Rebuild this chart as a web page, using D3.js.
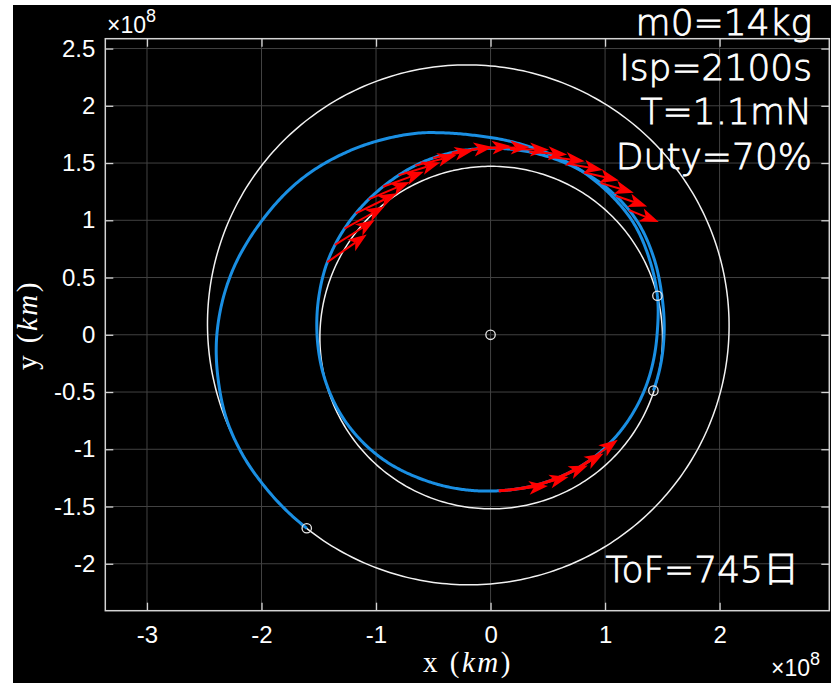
<!DOCTYPE html>
<html><head><meta charset="utf-8">
<script src="https://cdn.jsdelivr.net/npm/d3@7"></script>
<style>body{margin:0;background:#fff;} svg{display:block}</style>
</head><body>
<svg id="c" width="831" height="684"></svg>
<script>
// ---- data (units: 1e8 km) ----
const xTicks = [-3, -2, -1, 0, 1, 2];
const yTicks = [-2, -1.5, -1, -0.5, 0, 0.5, 1, 1.5, 2, 2.5];
const orbitNames = ["Earth", "Mars"];
const orbitA = [1.496, 2.279];
const orbitE = [0.0167, 0.0934];
const orbitPeri = [102.9, 336.0];
// first loop: Earth departure -> Earth swing-by (polar angle deg, radius)
const loopTheta = [-18.9, -10, 0, 13, 25, 38, 50, 62, 77, 90, 110, 127, 143, 156, 168, 180, 195, 210, 228, 247, 270, 290, 310, 337, 360, 373.1];
const loopR = [1.503, 1.508, 1.515, 1.535, 1.575, 1.62, 1.635, 1.637, 1.633, 1.629, 1.622, 1.597, 1.578, 1.56, 1.535, 1.515, 1.498, 1.478, 1.44, 1.392, 1.365, 1.375, 1.40, 1.425, 1.454, 1.496];
// transfer: Earth swing-by -> Mars arrival
const transferTheta = [13.1, 25, 38, 50, 62, 70, 79, 87, 95, 103, 109, 118, 127, 141, 153, 167, 180, 191, 198, 206, 213, 220, 226.5];
const transferR = [1.496, 1.535, 1.585, 1.612, 1.64, 1.658, 1.68, 1.71, 1.75, 1.81, 1.865, 1.94, 2.02, 2.143, 2.228, 2.328, 2.39, 2.413, 2.42, 2.405, 2.38, 2.355, 2.331];
// thrust arrows on the first loop (base angle, direction deg, length)
const thrustTopTheta = [156, 150, 144, 138, 132, 126, 120, 114, 108, 102, 96, 90, 84, 78, 72, 66, 60, 54, 48, 42];
const thrustTopDir = [35, 32, 29, 26, 23, 20, 17, 14, 11, 8, 5, 2, -1, -4, -7, -10, -13, -16, -19, -22];
const thrustTopLen = [0.42, 0.41, 0.40, 0.40, 0.39, 0.38, 0.38, 0.37, 0.36, 0.36, 0.35, 0.34, 0.34, 0.33, 0.32, 0.32, 0.31, 0.30, 0.29, 0.28];
const thrustBotTheta = [276, 284, 292, 299, 306];
const thrustBotDir = [6, 14, 22, 29, 36];
const thrustBotLen = [0.36, 0.36, 0.36, 0.36, 0.36];
const thrustArcStart = 273, thrustArcEnd = 311;
const markerX = [0, 1.422, 1.457, -1.605];
const markerY = [0, -0.488, 0.341, -1.69];
const infoLines = ["m0=14kg", "Isp=2100s", "T=1.1mN", "Duty=70%"];
const tofLabel = "ToF=745日";

// ---- drawing ----
const svg = d3.select("#c");
const W = 831, H = 684;
svg.append("rect").attr("x", 0).attr("y", 0).attr("width", W).attr("height", H).attr("fill", "#fff");
svg.append("rect").attr("x", 13).attr("y", 5).attr("width", 818).attr("height", 678).attr("fill", "#000");

const x = d3.scaleLinear().domain([-3.364, 2.958]).range([105.3, 829.3]);
const y = d3.scaleLinear().domain([-2.41, 2.586]).range([610.7, 38.7]);
const [x0, x1] = x.range(), [y0, y1] = y.range();

// grid
const grid = svg.append("g").attr("stroke", "#424242").attr("stroke-width", 1);
xTicks.forEach(t => grid.append("line").attr("x1", x(t)).attr("x2", x(t)).attr("y1", y0).attr("y2", y1));
yTicks.forEach(t => grid.append("line").attr("y1", y(t)).attr("y2", y(t)).attr("x1", x0).attr("x2", x1));

const axisColor = "#d4d4d4";
const fmt = d => String(d);
function styleAxis(g, fs) {
  g.selectAll(".domain").remove();
  g.selectAll(".tick line").attr("stroke", axisColor).attr("stroke-width", 1.3);
  g.selectAll(".tick text").attr("fill", "#fff").attr("font-size", fs)
    .attr("font-family", "'Liberation Sans', Arial, Helvetica, sans-serif");
}
svg.append("g").attr("transform", `translate(0,${y0})`)
  .call(d3.axisBottom(x).tickValues(xTicks).tickFormat(fmt).tickSizeInner(-8).tickSizeOuter(0).tickPadding(15))
  .call(g => styleAxis(g, 24));
svg.append("g").attr("transform", `translate(0,${y1})`)
  .call(d3.axisTop(x).tickValues(xTicks).tickFormat("").tickSizeInner(-8).tickSizeOuter(0))
  .call(g => styleAxis(g, 24));
svg.append("g").attr("transform", `translate(${x0},0)`)
  .call(d3.axisLeft(y).tickValues(yTicks).tickFormat(fmt).tickSizeInner(-8).tickSizeOuter(0).tickPadding(10))
  .call(g => styleAxis(g, 24));
svg.append("g").attr("transform", `translate(${x1},0)`)
  .call(d3.axisRight(y).tickValues(yTicks).tickFormat("").tickSizeInner(-8).tickSizeOuter(0))
  .call(g => styleAxis(g, 24));
svg.append("rect").attr("x", x0).attr("y", y1).attr("width", x1 - x0).attr("height", y0 - y1)
  .attr("fill", "none").attr("stroke", axisColor).attr("stroke-width", 1.5);

const plot = svg.append("g");
const line = d3.line().x(d => x(d[0])).y(d => y(d[1]));

// planetary orbits
orbitNames.forEach((n, i) => {
  const a = orbitA[i], e = orbitE[i], w = orbitPeri[i] * Math.PI / 180;
  const pts = d3.range(0, 361, 1).map(deg => {
    const nu = deg * Math.PI / 180;
    const r = a * (1 - e * e) / (1 + e * Math.cos(nu));
    return [r * Math.cos(nu + w), r * Math.sin(nu + w)];
  });
  plot.append("path").attr("d", line(pts))
    .attr("fill", "none").attr("stroke", "#f2f2f2").attr("stroke-width", 1.5);
});

// smooth (cubic Hermite) radius interpolation through the read points
function radiusAt(T, R, th) {
  const n = T.length;
  if (th <= T[0]) return R[0];
  if (th >= T[n - 1]) return R[n - 1];
  let i = d3.bisectRight(T, th) - 1;
  if (i >= n - 1) i = n - 2;
  const slope = k => {
    if (k === 0) return (R[1] - R[0]) / (T[1] - T[0]);
    if (k === n - 1) return (R[n - 1] - R[n - 2]) / (T[n - 1] - T[n - 2]);
    return (R[k + 1] - R[k - 1]) / (T[k + 1] - T[k - 1]);
  };
  const h = T[i + 1] - T[i], s = (th - T[i]) / h;
  const h00 = 2 * s * s * s - 3 * s * s + 1, h10 = s * s * s - 2 * s * s + s;
  const h01 = -2 * s * s * s + 3 * s * s, h11 = s * s * s - s * s;
  return h00 * R[i] + h10 * h * slope(i) + h01 * R[i + 1] + h11 * h * slope(i + 1);
}
function polarPath(T, R, a0, a1) {
  return d3.range(a0, a1, 0.5).concat([a1]).map(th => {
    const r = radiusAt(T, R, th), t = th * Math.PI / 180;
    return [r * Math.cos(t), r * Math.sin(t)];
  });
}
const blue = "#1a8fe3";
plot.append("path").attr("d", line(polarPath(loopTheta, loopR, loopTheta[0], loopTheta[loopTheta.length - 1])))
  .attr("fill", "none").attr("stroke", blue).attr("stroke-width", 3).attr("stroke-linejoin", "round");
plot.append("path").attr("d", line(polarPath(transferTheta, transferR, transferTheta[0], transferTheta[transferTheta.length - 1])))
  .attr("fill", "none").attr("stroke", blue).attr("stroke-width", 3).attr("stroke-linejoin", "round");
// thrust arc (bottom)
plot.append("path").attr("d", line(polarPath(loopTheta, loopR, thrustArcStart, thrustArcEnd)))
  .attr("fill", "none").attr("stroke", "#ff0000").attr("stroke-width", 3);

// arrows
function drawArrow(th, dir, len) {
  const r = radiusAt(loopTheta, loopR, th), t = th * Math.PI / 180, d = dir * Math.PI / 180;
  const bx = r * Math.cos(t), by = r * Math.sin(t);
  const tx = bx + len * Math.cos(d), ty = by + len * Math.sin(d);
  const px0 = x(bx), py0 = y(by), px1 = x(tx), py1 = y(ty);
  const L = Math.hypot(px1 - px0, py1 - py0);
  const ux = (px1 - px0) / L, uy = (py1 - py0) / L, nx = -uy, ny = ux;
  const hl = 19, hw = 7, notch = 5;
  const bxh = px1 - ux * hl, byh = py1 - uy * hl;
  plot.append("line").attr("x1", px0).attr("y1", py0).attr("x2", bxh + ux * notch).attr("y2", byh + uy * notch)
    .attr("stroke", "#ff0000").attr("stroke-width", 2);
  const head = [[px1, py1], [bxh + nx * hw, byh + ny * hw], [bxh + ux * notch, byh + uy * notch], [bxh - nx * hw, byh - ny * hw]];
  plot.append("polygon").attr("points", head.map(p => p.join(",")).join(" ")).attr("fill", "#ff0000");
}
thrustTopTheta.forEach((th, i) => drawArrow(th, thrustTopDir[i], thrustTopLen[i]));
thrustBotTheta.forEach((th, i) => drawArrow(th, thrustBotDir[i], thrustBotLen[i]));

// markers
markerX.forEach((mx, i) => {
  plot.append("circle").attr("cx", x(mx)).attr("cy", y(markerY[i])).attr("r", 4.7)
    .attr("fill", "none").attr("stroke", "#e6e6e6").attr("stroke-width", 1.3);
});

// annotations
const infoFont = "'DejaVu Sans', 'Noto Sans CJK JP', sans-serif";
infoLines.forEach((s, i) => {
  svg.append("text").attr("x", 812).attr("y", 35 + i * 44.5).attr("text-anchor", "end")
    .attr("fill", "#fff").attr("stroke", "#fff").attr("stroke-width", 0.8)
    .attr("font-size", 36).attr("font-weight", 200).attr("font-family", infoFont).text(s);
});
svg.append("text").attr("x", 799).attr("y", 582).attr("text-anchor", "end")
  .attr("fill", "#fff").attr("stroke", "#fff").attr("stroke-width", 0.8)
  .attr("font-size", 36).attr("font-weight", 200).attr("font-family", infoFont).text(tofLabel);

// exponent labels
const sansFont = "'Liberation Sans', Arial, Helvetica, sans-serif";
function expLabel(xp, yp) {
  const t = svg.append("text").attr("x", xp).attr("y", yp).attr("fill", "#fff").attr("font-family", sansFont).attr("font-size", 23);
  t.append("tspan").text("×10");
  t.append("tspan").attr("dy", -11).attr("font-size", 18).text("8");
}
expLabel(107, 33);
expLabel(771, 676);

// axis labels
const serif = "'Liberation Serif', 'Times New Roman', serif";
const xl = svg.append("text").attr("x", 468).attr("y", 672).attr("text-anchor", "middle")
  .attr("fill", "#fff").attr("font-family", serif).attr("font-size", 29).attr("letter-spacing", 2.5);
xl.append("tspan").text("x (");
xl.append("tspan").attr("font-style", "italic").text("km");
xl.append("tspan").text(")");
const yl = svg.append("text").attr("transform", "translate(37,325) rotate(-90)").attr("text-anchor", "middle")
  .attr("fill", "#fff").attr("font-family", serif).attr("font-size", 29).attr("letter-spacing", 2.5);
yl.append("tspan").text("y (");
yl.append("tspan").attr("font-style", "italic").text("km");
yl.append("tspan").text(")");
</script>
</body></html>
